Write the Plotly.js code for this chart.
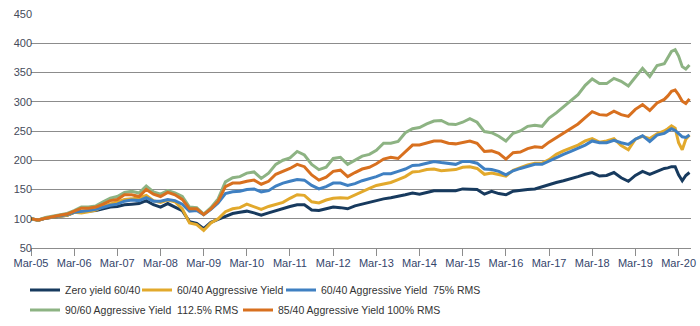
<!DOCTYPE html>
<html>
<head>
<meta charset="utf-8">
<script src="https://cdn.plot.ly/plotly-3.0.1.min.js"></script>
<style>
  html, body { margin: 0; padding: 0; background: #ffffff; }
  #chart { width: 700px; height: 326px; }
</style>
</head>
<body>
<div id="chart"></div>
<script>
// ---- Data ----
const dates = [
  '2005-03','2005-05','2005-07','2005-09','2005-11',
  '2006-01','2006-03','2006-05','2006-07','2006-09','2006-11',
  '2007-01','2007-03','2007-05','2007-07','2007-09','2007-11',
  '2008-01','2008-03','2008-05','2008-07','2008-09','2008-11',
  '2009-01','2009-03','2009-05','2009-07','2009-09','2009-11',
  '2010-01','2010-03','2010-05','2010-07','2010-09','2010-11',
  '2011-01','2011-03','2011-05','2011-07','2011-09','2011-11',
  '2012-01','2012-03','2012-05','2012-07','2012-09','2012-11',
  '2013-01','2013-03','2013-05','2013-07','2013-09','2013-11',
  '2014-01','2014-03','2014-05','2014-07','2014-09','2014-11',
  '2015-01','2015-03','2015-05','2015-07','2015-09','2015-11',
  '2016-01','2016-03','2016-05','2016-07','2016-09','2016-11',
  '2017-01','2017-03','2017-05','2017-07','2017-09','2017-11',
  '2018-01','2018-03','2018-05','2018-07','2018-09','2018-11',
  '2019-01','2019-03','2019-05','2019-07','2019-09','2019-11','2019-12',
  '2020-01','2020-02','2020-03','2020-04','2020-05','2020-06'
];

const zeroYield = [
  100, 97, 101, 103, 105,
  106, 111, 112, 112, 114, 117,
  120, 121, 124, 125, 126, 131,
  124, 120, 126, 120, 114, 95,
  92, 83, 94, 99, 104, 109,
  111, 113, 110, 106, 110, 114,
  117, 121, 124, 124, 115, 114,
  117, 120, 119, 117, 122, 125,
  128, 132, 134, 136, 138, 141,
  144, 142, 145, 148, 148, 148,
  148, 151, 151, 150, 142, 147,
  143, 141, 147, 149, 150, 151,
  155, 159, 162, 165, 168, 172,
  176, 179, 173, 174, 179, 170,
  164, 174, 181, 176, 181, 186, 187,
  189, 189, 175, 165, 174, 179
];

const aggYield = [
  100, 97, 101, 103, 105,
  106, 111, 110, 112, 115, 121,
  125, 128, 133, 134, 136, 140,
  131, 128, 132, 129, 117, 93,
  90, 80, 93, 100, 112, 117,
  119, 125, 121, 116, 121, 124,
  128, 135, 141, 140, 129, 127,
  132, 135, 136, 135, 141, 147,
  152, 157, 160, 162, 167, 172,
  180, 181, 184, 185, 182, 183,
  184, 188, 189, 186, 176, 178,
  175, 173, 183, 188, 192, 195,
  195, 201, 210, 216, 221, 226,
  233, 237, 231, 233, 237, 225,
  218, 236, 241, 237, 245, 250, 254,
  259, 255, 230, 218, 236, 243
];

const agg75 = [
  100, 98, 101, 103, 105,
  107, 111, 112, 114, 116, 120,
  123, 125, 130, 132, 131, 136,
  130, 130, 133, 131, 125, 113,
  114, 107, 116, 127, 143, 146,
  147, 150, 151, 146, 148, 156,
  161, 164, 167, 166, 157, 151,
  155, 161, 161, 157, 160, 165,
  168, 172, 177, 177, 181, 185,
  191, 192, 195, 198, 196, 195,
  193, 198, 198, 195, 185, 184,
  181, 175, 182, 186, 190, 193,
  193, 199, 205, 210, 215, 220,
  226, 233, 230, 230, 234, 230,
  227, 236, 242, 232, 243, 246, 250,
  254, 251, 245, 240, 239, 243
];

const agg9060 = [
  100, 98, 102, 104, 106,
  109, 114, 120, 120, 122, 129,
  135, 138, 145, 147, 144, 156,
  146, 142, 148, 144, 138, 120,
  119, 108, 119, 134, 163, 170,
  172, 178, 180, 169, 178, 193,
  200, 204, 215, 209, 193, 184,
  188, 203, 205, 193, 200, 207,
  210, 217, 229, 229, 232, 247,
  254, 256, 262, 267, 268, 262,
  261, 265, 271, 265, 249, 247,
  241, 233, 246, 250, 258, 260,
  258, 272, 281, 291, 301, 312,
  328, 339, 331, 331, 340, 335,
  327, 341, 357, 343, 362, 365, 375,
  386, 389, 378, 360, 356, 363
];

const agg8540 = [
  100, 98, 101, 104, 106,
  108, 113, 118, 118, 120, 125,
  131, 133, 141, 141, 138, 150,
  142, 138, 145, 141, 133, 117,
  117, 107, 117, 130, 155, 161,
  161, 164, 166, 159, 164, 176,
  181, 186, 193, 189, 175, 166,
  171, 181, 183, 172, 179, 185,
  188, 194, 202, 205, 203, 215,
  226, 226, 229, 233, 233, 229,
  228, 230, 233, 229, 215, 216,
  212, 202, 213, 214, 220, 223,
  222, 231, 239, 247, 255, 262,
  273, 283, 278, 277, 284, 278,
  275, 287, 295, 285, 298, 304, 310,
  318, 320, 312, 301, 297, 305
];

const seriesNames = [
  'Zero yield 60/40',
  '60/40 Aggressive Yield',
  '60/40 Aggressive Yield\u00a0 75% RMS',
  '90/60 Aggressive Yield\u00a0 112.5% RMS',
  '85/40 Aggressive Yield 100% RMS'
];
const seriesValues = [zeroYield, aggYield, agg75, agg9060, agg8540];
const seriesColors = ['#173a5e', '#e2a92c', '#3f80c2', '#8db383', '#d8701f'];
const legendIds = ['legend', 'legend2', 'legend3', 'legend4', 'legend5'];

const yTicks = [50, 100, 150, 200, 250, 300, 350, 400, 450];

// ---- Traces ----
const traces = seriesValues.map((vals, i) => ({
  type: 'scatter',
  mode: 'lines',
  x: dates,
  y: vals,
  name: seriesNames[i],
  legend: legendIds[i],
  line: { color: seriesColors[i], width: 3 },
  hoverinfo: 'skip'
}));

// ---- Legends (one per entry, laid out as two rows) ----
const legendFont = { family: 'Liberation Sans, Arial, sans-serif', size: 10.5, color: '#333333' };
function makeLegend(xPx, yPx) {
  return {
    xref: 'container', yref: 'container',
    x: xPx / 700, y: 1 - yPx / 326,
    xanchor: 'left', yanchor: 'middle',
    orientation: 'h',
    bgcolor: 'rgba(0,0,0,0)',
    borderwidth: 0,
    font: legendFont,
    itemclick: false, itemdoubleclick: false
  };
}

const layout = {
  width: 700,
  height: 326,
  margin: { l: 31, r: 9, t: 14, b: 78 },
  paper_bgcolor: '#ffffff',
  plot_bgcolor: '#ffffff',
  font: { family: 'Liberation Sans, Arial, sans-serif', size: 11, color: '#404040' },
  showlegend: true,
  legend: makeLegend(25, 290),
  legend2: makeLegend(137, 290),
  legend3: makeLegend(281, 290),
  legend4: makeLegend(25, 310),
  legend5: makeLegend(238, 310),
  xaxis: {
    type: 'date',
    range: ['2005-03-01', '2020-06-14'],
    tick0: '2005-03-01',
    dtick: 'M12',
    tickformat: '%b-%y',
    ticks: 'outside',
    ticklen: 7,
    tickwidth: 1,
    tickcolor: '#8c8c8c',
    showline: true,
    linecolor: '#8c8c8c',
    linewidth: 1,
    showgrid: false,
    zeroline: false,
    ticklabelstandoff: -2,
    tickfont: { family: 'Liberation Sans, Arial, sans-serif', size: 11, color: '#34456b' },
    fixedrange: true
  },
  yaxis: {
    range: [50, 450],
    tickvals: yTicks,
    ticktext: yTicks.map(String),
    showgrid: true,
    gridcolor: '#8c8c8c',
    gridwidth: 1,
    zeroline: false,
    showline: false,
    ticks: '',
    ticklabelstandoff: -2,
    tickfont: { family: 'Liberation Sans, Arial, sans-serif', size: 11, color: '#454a5a' },
    fixedrange: true
  }
};

Plotly.newPlot('chart', traces, layout, { displayModeBar: false, staticPlot: true });
</script>
</body>
</html>
